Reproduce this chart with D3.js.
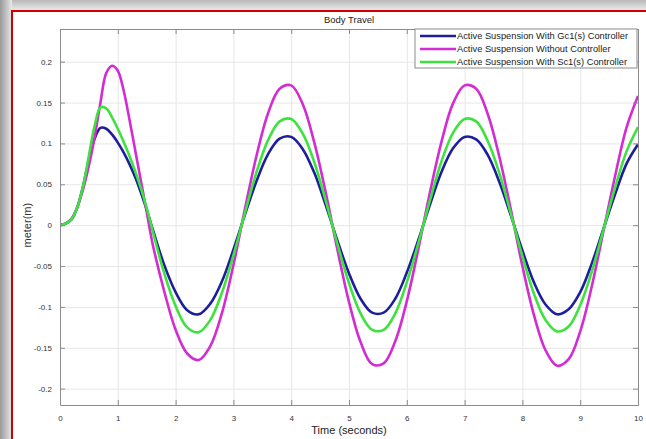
<!DOCTYPE html>
<html>
<head>
<meta charset="utf-8">
<script src="https://cdn.jsdelivr.net/npm/d3@7"></script>
<style>
  body { margin: 0; background: #fff; }
  text { font-family: "Liberation Sans", Arial, sans-serif; }
  .grid line { stroke: #e6e6e6; stroke-width: 1; }
  .grid path { stroke: none; }
</style>
</head>
<body>
<div class="viz"></div>
<script>

	// Data (0.1 s steps during the start-up, then 0.2 s)
	var times = [0, 0.1, 0.2, 0.3, 0.4, 0.5, 0.6, 0.7, 0.8, 0.9, 1.0, 1.1, 1.2, 1.3, 1.4, 1.5, 1.6,
		1.8, 2.0, 2.2, 2.4, 2.6, 2.8, 3.0, 3.2, 3.4, 3.6, 3.8, 4.0, 4.2, 4.4, 4.6, 4.8,
		5.0, 5.2, 5.4, 5.6, 5.8, 6.0, 6.2, 6.4, 6.6, 6.8, 7.0, 7.2, 7.4, 7.6, 7.8, 8.0,
		8.2, 8.4, 8.6, 8.8, 9.0, 9.2, 9.4, 9.6, 9.8, 10.0];

	var seriesNames = ['Active Suspension With Gc1(s) Controller',
		'Active Suspension Without Controller',
		'Active Suspension With Sc1(s) Controller'];

	var blueVals = [0, 0.002, 0.007, 0.022, 0.048, 0.080, 0.106, 0.119, 0.118, 0.111, 0.101,
		0.089, 0.075, 0.059, 0.040, 0.019, -0.004,
		-0.048, -0.082, -0.104, -0.109, -0.096, -0.069, -0.030, 0.013, 0.054, 0.087,
		0.106, 0.108, 0.093, 0.064, 0.024, -0.019, -0.059, -0.090, -0.107, -0.107,
		-0.090, -0.058, -0.018, 0.025, 0.065, 0.094, 0.108, 0.105, 0.086, 0.053,
		0.012, -0.031, -0.070, -0.097, -0.109, -0.103, -0.082, -0.047, -0.005, 0.037,
		0.075, 0.099];

	var magentaVals = [0, 0.002, 0.008, 0.022, 0.044, 0.073, 0.108, 0.150, 0.186, 0.195, 0.189,
		0.165, 0.130, 0.092, 0.054, 0.016, -0.022,
		-0.080, -0.128, -0.157, -0.165, -0.148, -0.108, -0.049, 0.020, 0.085, 0.137,
		0.167, 0.171, 0.148, 0.101, 0.039, -0.030, -0.094, -0.143, -0.170, -0.169,
		-0.142, -0.093, -0.029, 0.040, 0.102, 0.149, 0.171, 0.167, 0.136, 0.084,
		0.019, -0.050, -0.110, -0.153, -0.172, -0.164, -0.130, -0.075, -0.008, 0.059,
		0.119, 0.158];

	var greenVals = [0, 0.002, 0.007, 0.022, 0.048, 0.085, 0.122, 0.144, 0.143, 0.132, 0.118,
		0.102, 0.085, 0.066, 0.045, 0.021, -0.006,
		-0.058, -0.099, -0.125, -0.131, -0.116, -0.083, -0.037, 0.015, 0.065, 0.104,
		0.127, 0.130, 0.112, 0.077, 0.029, -0.023, -0.071, -0.108, -0.128, -0.128,
		-0.108, -0.070, -0.022, 0.030, 0.078, 0.113, 0.130, 0.127, 0.103, 0.064,
		0.014, -0.038, -0.084, -0.116, -0.130, -0.124, -0.098, -0.057, -0.006, 0.045,
		0.090, 0.120];

	var xTicks = [0, 1, 2, 3, 4, 5, 6, 7, 8, 9, 10];
	var yTicks = [-0.2, -0.15, -0.1, -0.05, 0, 0.05, 0.1, 0.15, 0.2];
	var yTickLabels = ['-0.2', '-0.15', '-0.1', '-0.05', '0', '0.05', '0.1', '0.15', '0.2'];

	var colors = ['#1e1e9c', '#d22cd2', '#3ee23e'];

	// Defining SVG
	var W = 646, H = 439;
	var plot = {left: 60, top: 29, right: 638, bottom: 405};

	var svg = d3.select('.viz')
		.append('svg')
		.attr('width', W)
		.attr('height', H)
		.style('display', 'block');

	var defs = svg.append('defs');
	var gl = defs.append('linearGradient').attr('id', 'shadeLeft')
		.attr('x1', '0').attr('x2', '1').attr('y1', '0').attr('y2', '0');
	gl.append('stop').attr('offset', '0%').attr('stop-color', '#9a9a9a');
	gl.append('stop').attr('offset', '100%').attr('stop-color', '#e8e8e8');
	var gt = defs.append('linearGradient').attr('id', 'shadeTop')
		.attr('x1', '0').attr('x2', '0').attr('y1', '0').attr('y2', '1');
	gt.append('stop').attr('offset', '0%').attr('stop-color', '#b8b8b8');
	gt.append('stop').attr('offset', '100%').attr('stop-color', '#efefef');

	// shadow around the frame
	svg.append('rect').attr('x', 0).attr('y', 0).attr('width', W).attr('height', H).attr('fill', '#f4f4f4');
	svg.append('rect').attr('x', 0).attr('y', 0).attr('width', W).attr('height', 11).attr('fill', 'url(#shadeTop)');
	svg.append('rect').attr('x', 0).attr('y', 0).attr('width', 12).attr('height', H).attr('fill', 'url(#shadeLeft)');

	// red frame (right and bottom edges run off the picture)
	svg.append('rect')
		.attr('x', 12).attr('y', 11)
		.attr('width', 660).attr('height', 460)
		.attr('fill', '#ffffff')
		.attr('stroke', '#d00000')
		.attr('stroke-width', 2);

	//Defining Scales
	var xScale = d3.scaleLinear().domain([0, 10]).range([plot.left, plot.right]);
	var yScale = d3.scaleLinear().domain([-0.22, 0.24]).range([plot.bottom, plot.top]);

	// gridlines
	svg.append('g')
		.attr('class', 'grid')
		.attr('transform', 'translate(0,' + plot.bottom + ')')
		.call(d3.axisBottom(xScale).tickValues(xTicks).tickSize(-(plot.bottom - plot.top)).tickFormat(''));

	svg.append('g')
		.attr('class', 'grid')
		.attr('transform', 'translate(' + plot.left + ',0)')
		.call(d3.axisLeft(yScale).tickValues(yTicks).tickSize(-(plot.right - plot.left)).tickFormat(''));

	// lines
	var lineGen = d3.line()
		.x(function(d){ return xScale(d[0]); })
		.y(function(d){ return yScale(d[1]); })
		.curve(d3.curveCatmullRom.alpha(0.5));

	var allVals = [blueVals, magentaVals, greenVals];

	var clip = defs.append('clipPath').attr('id', 'plotClip');
	clip.append('rect').attr('x', plot.left).attr('y', plot.top)
		.attr('width', plot.right - plot.left).attr('height', plot.bottom - plot.top);

	svg.append('g')
		.attr('clip-path', 'url(#plotClip)')
		.selectAll('.series')
		.data(allVals)
		.enter().append('path')
		.attr('class', 'series')
		.attr('fill', 'none')
		.attr('stroke', function(d, i){ return colors[i]; })
		.attr('stroke-width', 2.6)
		.attr('stroke-linejoin', 'round')
		.attr('d', function(vals){
			return lineGen(times.map(function(t, j){ return [t, vals[j]]; }));
		});

	// axes box with inward ticks on all four sides
	var axisColor = '#8c8c8c';
	function styleAxis(g) {
		g.select('.domain').attr('stroke', axisColor);
		g.selectAll('.tick line').attr('stroke', axisColor);
		g.selectAll('.tick text')
			.attr('fill', '#333')
			.style('font-size', '8px')
			.style('font-family', '"Liberation Sans", Arial, sans-serif');
	}

	svg.append('g')
		.attr('transform', 'translate(0,' + plot.bottom + ')')
		.call(d3.axisBottom(xScale).tickValues(xTicks).tickSize(-5).tickSizeOuter(0).tickPadding(10).tickFormat(d3.format('d')))
		.call(styleAxis);

	svg.append('g')
		.attr('transform', 'translate(0,' + plot.top + ')')
		.call(d3.axisTop(xScale).tickValues(xTicks).tickSize(-5).tickSizeOuter(0).tickFormat(''))
		.call(styleAxis);

	svg.append('g')
		.attr('transform', 'translate(' + plot.left + ',0)')
		.call(d3.axisLeft(yScale).tickValues(yTicks).tickSize(-5).tickSizeOuter(0).tickPadding(8)
			.tickFormat(function(d, i){ return yTickLabels[i]; }))
		.call(styleAxis);

	svg.append('g')
		.attr('transform', 'translate(' + plot.right + ',0)')
		.call(d3.axisRight(yScale).tickValues(yTicks).tickSize(-5).tickSizeOuter(0).tickFormat(''))
		.call(styleAxis);

	// titles
	svg.append('text')
		.attr('x', (plot.left + plot.right) / 2)
		.attr('y', 23)
		.attr('text-anchor', 'middle')
		.style('font-size', '9.5px')
		.attr('fill', '#222')
		.text('Body Travel');

	svg.append('text')
		.attr('x', (plot.left + plot.right) / 2)
		.attr('y', 434)
		.attr('text-anchor', 'middle')
		.style('font-size', '11px')
		.attr('fill', '#222')
		.text('Time (seconds)');

	svg.append('text')
		.attr('transform', 'translate(31,' + yScale(0) + ') rotate(-90)')
		.attr('text-anchor', 'middle')
		.style('font-size', '11px')
		.attr('fill', '#333')
		.text('meter(m)');

	// legend
	var legend = svg.append('g').attr('transform', 'translate(415,29)');
	legend.append('rect')
		.attr('width', 222).attr('height', 39)
		.attr('fill', '#fff')
		.attr('stroke', '#8c8c8c')
		.attr('stroke-width', 1);

	var item = legend.selectAll('.item')
		.data(seriesNames)
		.enter().append('g')
		.attr('class', 'item')
		.attr('transform', function(d, i){ return 'translate(0,' + (7 + i * 13) + ')'; });

	item.append('line')
		.attr('x1', 5).attr('x2', 41)
		.attr('stroke', function(d, i){ return colors[i]; })
		.attr('stroke-width', 2.6);

	item.append('text')
		.attr('x', 42)
		.attr('dy', '0.35em')
		.style('font-size', '9.3px')
		.attr('fill', '#222')
		.text(function(d){ return d; });

</script>
</body>
</html>
